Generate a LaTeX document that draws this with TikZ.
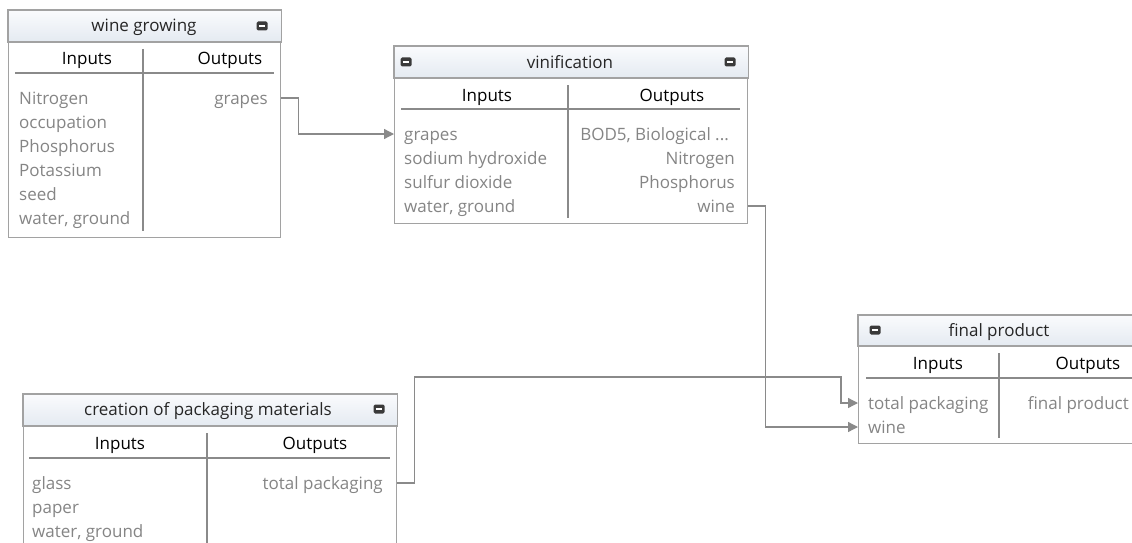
\documentclass[tikz,border=0pt]{standalone}
\usepackage{fontspec}
\setmainfont{Open Sans}
\usetikzlibrary{arrows.meta,calc}
\definecolor{boxline}{HTML}{A2A2A2}
\definecolor{linkgray}{HTML}{8A8A8A}
\definecolor{itemgray}{HTML}{858585}
\definecolor{headtop}{HTML}{FAFBFD}
\definecolor{headbot}{HTML}{E4EAF1}
\definecolor{icondark}{HTML}{3A3A3A}
\tikzset{
  procbox/.style={draw=boxline, line width=1.3pt, fill=white, inner sep=0pt, anchor=north west},
  headbar/.style={top color=headtop, bottom color=headbot, draw=boxline, line width=1.3pt},
  boxtext/.style={font=\fontsize{17}{20}\selectfont, inner sep=0pt,
    text height=13pt, text depth=1pt},
  title/.style={boxtext, text=black!85},
  colhead/.style={boxtext, text=black},
  item/.style={boxtext, text=itemgray},
  initem/.style={item, anchor=west},
  outitem/.style={item, anchor=east},
  rule/.style={draw=boxline!85!black, line width=1.1pt},
  flow/.style={draw=linkgray, line width=1.3pt, -{Triangle[length=10pt,width=10pt]}},
  minicon/.pic={
    \fill[icondark, rounded corners=1.5pt] (-5.5,-4.5) rectangle (5.5,4.5);
    \draw[white, line width=1.4pt] (-3.2,0) -- (3.2,0);
  }
}
\begin{document}
\begin{tikzpicture}[x=1pt, y=-1pt]
  \useasboundingbox (0,0) rectangle (1132,543);
  \clip (0,0) rectangle (1132,543);

  % wine growing
  \node[procbox, minimum width=272pt, minimum height=227pt] (wg) at (8,10) {};
  \path[headbar] (wg.north west) rectangle ($(wg.north east)+(0,32)$);
  \node[title] (wg-title) at (144,26) {wine growing};
  \pic at (262,26) {minicon};
  \node[colhead] (wg-in) at (87,59) {Inputs};
  \node[colhead] (wg-out) at (230,59) {Outputs};
  \draw[rule] (15,73) -- (274,73);
  \draw[rule] (143,49) -- (143,231);
  \foreach \t [count=\i] in {Nitrogen, occupation, Phosphorus, Potassium, seed, {water, ground}}
    \node[initem] (wg-in-\i) at (19,74+24*\i) {\t};
  \node[outitem] (wg-grapes) at (268,98) {grapes};

  % vinification
  \node[procbox, minimum width=353pt, minimum height=177pt] (vin) at (394,46) {};
  \path[headbar] (vin.north west) rectangle ($(vin.north east)+(0,32)$);
  \node[title] (vin-title) at (570,62) {vinification};
  \pic at (406,62) {minicon};
  \pic at (730,62) {minicon};
  \node[colhead] (vin-in) at (487,95) {Inputs};
  \node[colhead] (vin-out) at (672,95) {Outputs};
  \draw[rule] (401,109) -- (740,109);
  \draw[rule] (568,85) -- (568,218);
  \foreach \t [count=\i] in {grapes, sodium hydroxide, sulfur dioxide, {water, ground}}
    \node[initem] (vin-in-\i) at (404,110+24*\i) {\t};
  \node[outitem] (vin-bod) at (729,134) {BOD5, Biological ...};
  \node[outitem] (vin-n) at (735,158) {Nitrogen};
  \node[outitem] (vin-p) at (735,182) {Phosphorus};
  \node[outitem] (vin-wine) at (735,206) {wine};

  % final product
  \node[procbox, minimum width=282pt, minimum height=128pt] (fp) at (858,315) {};
  \path[headbar] (fp.north west) rectangle ($(fp.north east)+(0,31)$);
  \node[title] (fp-title) at (999,330) {final product};
  \pic at (875,330) {minicon};
  \node[colhead] (fp-in) at (938,363) {Inputs};
  \node[colhead] (fp-out) at (1088,363) {Outputs};
  \draw[rule] (866,378) -- (1134,378);
  \draw[rule] (999,353) -- (999,438);
  \node[initem] (fp-in-1) at (868,403) {total packaging};
  \node[initem] (fp-in-2) at (868,427) {wine};
  \node[outitem] (fp-final) at (1129,403) {final product};

  % creation of packaging materials
  \node[procbox, minimum width=373pt, minimum height=165pt] (pack) at (23,394) {};
  \path[headbar] (pack.north west) rectangle ($(pack.north east)+(0,32)$);
  \node[title] (pack-title) at (208,409) {creation of packaging materials};
  \pic at (379,409) {minicon};
  \node[colhead] (pack-in) at (120,443) {Inputs};
  \node[colhead] (pack-out) at (315,443) {Outputs};
  \draw[rule] (29,458) -- (390,458);
  \draw[rule] (207,433) -- (207,552);
  \foreach \t [count=\i] in {glass, paper, {water, ground}}
    \node[initem] (pack-in-\i) at (32,459+24*\i) {\t};
  \node[outitem] (pack-total) at (383,483) {total packaging};

  % links
  \coordinate (bend) at (841,377);
  \draw[flow] (wg-grapes -| wg.east) -- ++(17,0) |- (vin-in-1 -| vin.west);
  \draw[flow] (vin-wine -| vin.east) -- ++(17,0) |- (fp-in-2 -| fp.west);
  \draw[flow] (pack-total -| pack.east) -- ++(17,0) |- (bend) |- (fp-in-1 -| fp.west);
\end{tikzpicture}
\end{document}
